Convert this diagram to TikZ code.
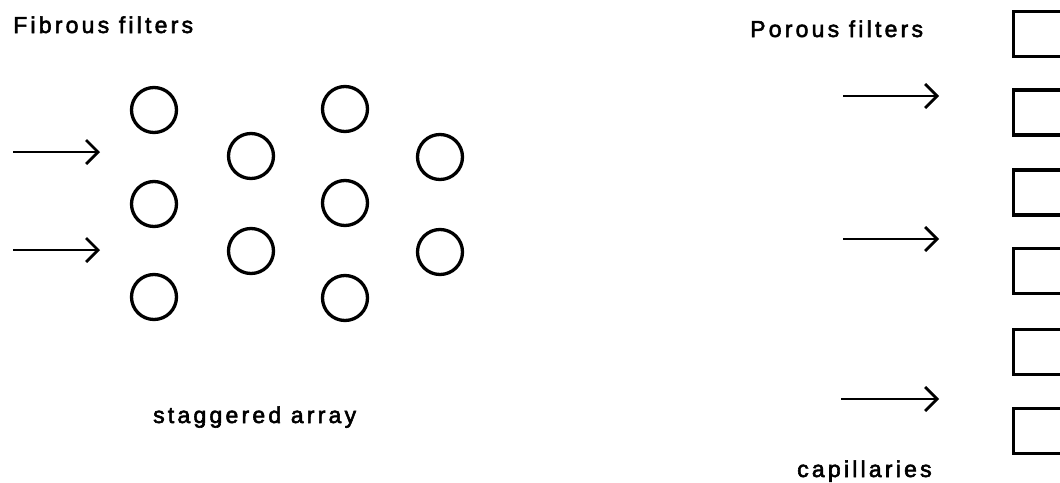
\documentclass[tikz,border=0pt]{standalone}
\usepackage{fontspec}
\setmainfont{Liberation Sans}[LetterSpace=14,FakeBold=2.5]
\usetikzlibrary{arrows.meta}
\begin{document}
\begin{tikzpicture}[x=1pt,y=-1pt,
  fiber/.style={circle,draw,line width=3.3pt,minimum size=45pt,inner sep=0pt},
  pore/.style={rectangle,draw,line width=3.2pt,minimum width=48pt,minimum height=45pt,inner sep=0pt},
  flow/.style={line width=2.7pt,-{Straight Barb[length=12pt,width=24pt,line width=2.7pt]}},
  lbl/.style={anchor=base west,inner sep=0pt,font=\fontsize{23}{26}\selectfont}]
\useasboundingbox (0,0) rectangle (1060,482);
% labels
\node[lbl] (fib) at (13,33) {Fibrous filters};
\node[lbl] (por) at (750,37) {Porous filters};
\node[lbl] (stag) at (153,423) {staggered array};
\node[lbl] (cap) at (797,477) {capillaries};
% fibres
\node[fiber] (c11) at (154,110) {};
\node[fiber] (c12) at (154,204) {};
\node[fiber] (c13) at (154,297) {};
\node[fiber] (c21) at (251,156) {};
\node[fiber] (c22) at (251,251) {};
\node[fiber] (c31) at (345,109) {};
\node[fiber] (c32) at (345,203) {};
\node[fiber] (c33) at (345,298) {};
\node[fiber] (c41) at (440,157) {};
\node[fiber] (c42) at (440,252) {};
% capillaries
\node[pore] (s1) at (1037.5,34) {};
\node[pore] (s2) at (1037.5,112.5) {};
\node[pore] (s3) at (1037.5,192.5) {};
\node[pore] (s4) at (1037.5,271) {};
\node[pore] (s5) at (1037.5,352) {};
\node[pore] (s6) at (1037.5,431) {};
% flow arrows
\coordinate (a1s) at (13,152); \coordinate (a1e) at (100,152);
\coordinate (a2s) at (13,250); \coordinate (a2e) at (100,250);
\coordinate (b1s) at (843,96);  \coordinate (b1e) at (939,96);
\coordinate (b2s) at (843,239); \coordinate (b2e) at (939,239);
\coordinate (b3s) at (841,399); \coordinate (b3e) at (939,399);
\draw[flow] (a1s) -- (a1e);
\draw[flow] (a2s) -- (a2e);
\draw[flow] (b1s) -- (b1e);
\draw[flow] (b2s) -- (b2e);
\draw[flow] (b3s) -- (b3e);
\end{tikzpicture}
\end{document}
